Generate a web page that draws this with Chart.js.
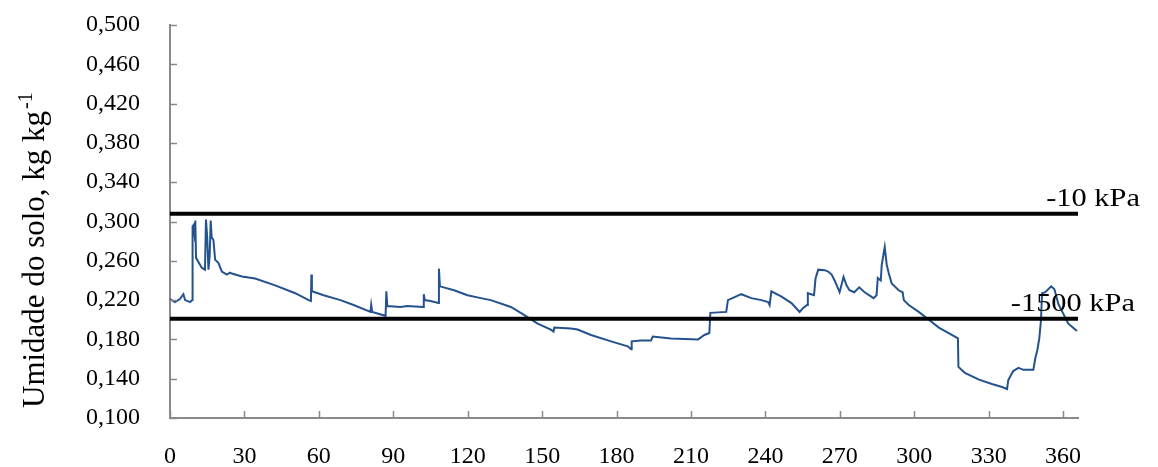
<!DOCTYPE html>
<html>
<head>
<meta charset="utf-8">
<script src="https://cdn.jsdelivr.net/npm/chart.js@4/dist/chart.umd.min.js"></script>
<style>
  html, body { margin:0; padding:0; background:#fff; }
  #chart { display:block; }
</style>
</head>
<body>
<canvas id="chart" width="1158" height="467"></canvas>
<script>
/* ---------- data ---------- */

// day of year
const days = [
  0, 2, 4, 5.4, 6.1, 8.1, 9.0, 9.1, 9.4, 9.8, 10.2, 10.5, 11.4, 12.8, 14.1, 14.5, 15.0, 15.5, 16.0, 16.4,
  16.8, 17.5, 18.2, 19.5, 20.9, 22.9, 24.2, 24.9, 29, 34.3, 42.4, 50.5, 55.9, 56.8, 57.0, 57.2,
  61.9, 68.7, 74, 80.8, 81.1, 81.5, 86.9, 87.2, 87.6, 92.9, 95.6, 102.0, 102.3, 102.7, 105, 108.2,
  108.4, 108.8, 114.5, 119.9, 125.3, 129.3, 137.4, 142.7, 148.2, 153.5, 154.6, 154.9, 161.6, 164.3,
  169.7, 177.8, 184.5, 185.9, 186.1, 189.9, 193.9, 194.6, 201.9, 212.9, 215.4, 217.4, 217.8, 224.2,
  224.9, 230.3, 234.3, 238.4, 241.1, 241.7, 242.4, 246.5, 250.5, 253.8, 255.2, 256.8, 257.1, 259.6,
  260.2, 261.3, 263.9, 265.3, 266.7, 267.9, 269.9, 271.5, 272.7, 273.9, 275.8, 277.8, 280.0, 283.6,
  284.8, 285.3, 286.5, 286.9, 288.1, 288.9, 289.7, 290.9, 293.7, 295.3, 295.8, 297.8, 301.8, 305.9,
  309.9, 313.9, 317.6, 317.8, 320.4, 326.1, 331.3, 335.4, 337.4, 337.9, 339.0, 339.9, 342.0, 344.0,
  348.0, 348.8, 349.6, 350.4, 351.1, 351.5, 352.8, 355.2, 356.5, 358.1, 360.1, 362.1, 365.6
];

// soil moisture, kg kg-1
const moisture = [
  0.221, 0.218, 0.221, 0.226, 0.220, 0.218, 0.220, 0.295, 0.296, 0.288, 0.301, 0.263, 0.259, 0.253, 0.251, 0.302, 0.284, 0.251, 0.265, 0.301,
  0.284, 0.281, 0.261, 0.258, 0.249, 0.246, 0.248, 0.247, 0.244, 0.242, 0.235, 0.227, 0.220, 0.219, 0.246, 0.229,
  0.225, 0.220, 0.215, 0.208, 0.215, 0.208, 0.204, 0.229, 0.214, 0.213, 0.214, 0.213, 0.226, 0.220, 0.219, 0.217,
  0.252, 0.234, 0.230, 0.225, 0.222, 0.220, 0.213, 0.205, 0.196, 0.190, 0.188, 0.192, 0.191, 0.190,
  0.1845, 0.178, 0.173, 0.170, 0.178, 0.179, 0.179, 0.183, 0.181, 0.180, 0.1845, 0.1865, 0.207, 0.208,
  0.220, 0.226, 0.222, 0.220, 0.218, 0.215, 0.229, 0.2235, 0.217, 0.208, 0.212, 0.215, 0.227, 0.225,
  0.242, 0.251, 0.2505, 0.249, 0.246, 0.240, 0.228, 0.2435, 0.235, 0.230, 0.228, 0.233, 0.228, 0.222,
  0.225, 0.2425, 0.240, 0.256, 0.274, 0.256, 0.2475, 0.237, 0.230, 0.228, 0.220, 0.215, 0.208, 0.200,
  0.192, 0.1865, 0.181, 0.152, 0.146, 0.139, 0.1346, 0.1316, 0.1295, 0.1387, 0.1438, 0.1478, 0.151, 0.149,
  0.149, 0.161, 0.169, 0.181, 0.200, 0.227, 0.228, 0.234, 0.231, 0.216, 0.206, 0.196, 0.1886
];

// reference water contents
const refLevels = [0.308, 0.201];
const refLabels = ["-10 kPa", "-1500 kPa"];

// axes
const xMin = 0, xMax = 366, xStep = 30;
const yMin = 0.100, yMax = 0.500, yStep = 0.040;

const yTitle = "Umidade do solo, kg kg";
const yTitleSup = "-1";

/* ---------- build datasets ---------- */

const seriesPoints = days.map((d, i) => ({ x: d, y: moisture[i] }));

const refSets = refLevels.map((v, i) => ({
  label: refLabels[i],
  data: [{ x: xMin, y: v }, { x: xMax, y: v }],
  borderColor: "#000000",
  borderWidth: 4,
  pointRadius: 0,
  order: 1
}));

const FONT = "'Liberation Serif', 'Times New Roman', serif";
const AXIS_GRAY = "#8a8a8a";

/* ---------- plugin: inward tick marks, labels, y title ---------- */

const extras = {
  id: "extras",
  afterDraw(chart){
    const ctx = chart.ctx;
    const xs = chart.scales.x;
    const ys = chart.scales.y;
    const area = chart.chartArea;

    // tick marks (inside)
    ctx.save();
    ctx.strokeStyle = AXIS_GRAY;
    ctx.lineWidth = 1.5;
    ys.ticks.forEach((t, i) => {
      const py = Math.round(ys.getPixelForTick(i)) + 0.5;
      ctx.beginPath();
      ctx.moveTo(area.left, py);
      ctx.lineTo(area.left + 7, py);
      ctx.stroke();
    });
    xs.ticks.forEach((t, i) => {
      const px = Math.round(xs.getPixelForTick(i)) + 0.5;
      ctx.beginPath();
      ctx.moveTo(px, area.bottom);
      ctx.lineTo(px, area.bottom - 7);
      ctx.stroke();
    });
    ctx.restore();

    // reference line labels
    ctx.save();
    ctx.fillStyle = "#000";
    ctx.font = "26px " + FONT;
    ctx.textAlign = "right";
    ctx.textBaseline = "alphabetic";
    const rights = [1140, 1135];
    refLevels.forEach((v, i) => {
      const py = ys.getPixelForValue(v) - 8;
      ctx.save();
      ctx.translate(rights[i], py);
      ctx.scale(1.17, 1);
      ctx.fillText(refLabels[i], 0, 0);
      ctx.restore();
    });
    ctx.restore();

    // y axis title with superscript
    ctx.save();
    ctx.fillStyle = "#000";
    ctx.translate(44, 408);
    ctx.rotate(-Math.PI / 2);
    ctx.font = "31px " + FONT;
    ctx.textAlign = "left";
    ctx.textBaseline = "alphabetic";
    ctx.fillText(yTitle, 0, 0);
    const w = ctx.measureText(yTitle).width;
    ctx.font = "20px " + FONT;
    ctx.fillText(yTitleSup, w + 2, -12);
    ctx.restore();
  }
};

/* ---------- chart ---------- */

new Chart(document.getElementById("chart"), {
  type: "line",
  data: {
    datasets: [
      {
        label: "Umidade",
        data: seriesPoints,
        borderColor: "#24528c",
        borderWidth: 2,
        pointRadius: 0,
        tension: 0,
        order: 2
      },
      ...refSets
    ]
  },
  options: {
    responsive: false,
    animation: false,
    devicePixelRatio: 1,
    layout: { padding: { left: 0, right: 80, top: 25, bottom: 0 } },
    plugins: {
      legend: { display: false },
      tooltip: { enabled: false }
    },
    scales: {
      x: {
        type: "linear",
        min: xMin,
        max: xMax,
        grid: { display: true, drawOnChartArea: false, drawTicks: false },
        border: { display: true, color: AXIS_GRAY, width: 2 },
        ticks: {
          stepSize: xStep,
          includeBounds: false,
          maxRotation: 0,
          autoSkip: false,
          padding: 24,
          color: "#000",
          font: { family: FONT, size: 24 }
        },
        afterFit(scale){ scale.height = 49; }
      },
      y: {
        type: "linear",
        min: yMin,
        max: yMax,
        grid: { display: true, drawOnChartArea: false, drawTicks: false },
        border: { display: true, color: AXIS_GRAY, width: 2 },
        ticks: {
          stepSize: yStep,
          autoSkip: false,
          padding: 30,
          color: "#000",
          font: { family: FONT, size: 24 },
          callback: (v) => v.toFixed(3).replace(".", ",")
        },
        afterFit(scale){
          scale.width = 170;
          scale.paddingTop = 0;
          scale.paddingBottom = 0;
        }
      }
    }
  },
  plugins: [extras]
});
</script>
</body>
</html>
